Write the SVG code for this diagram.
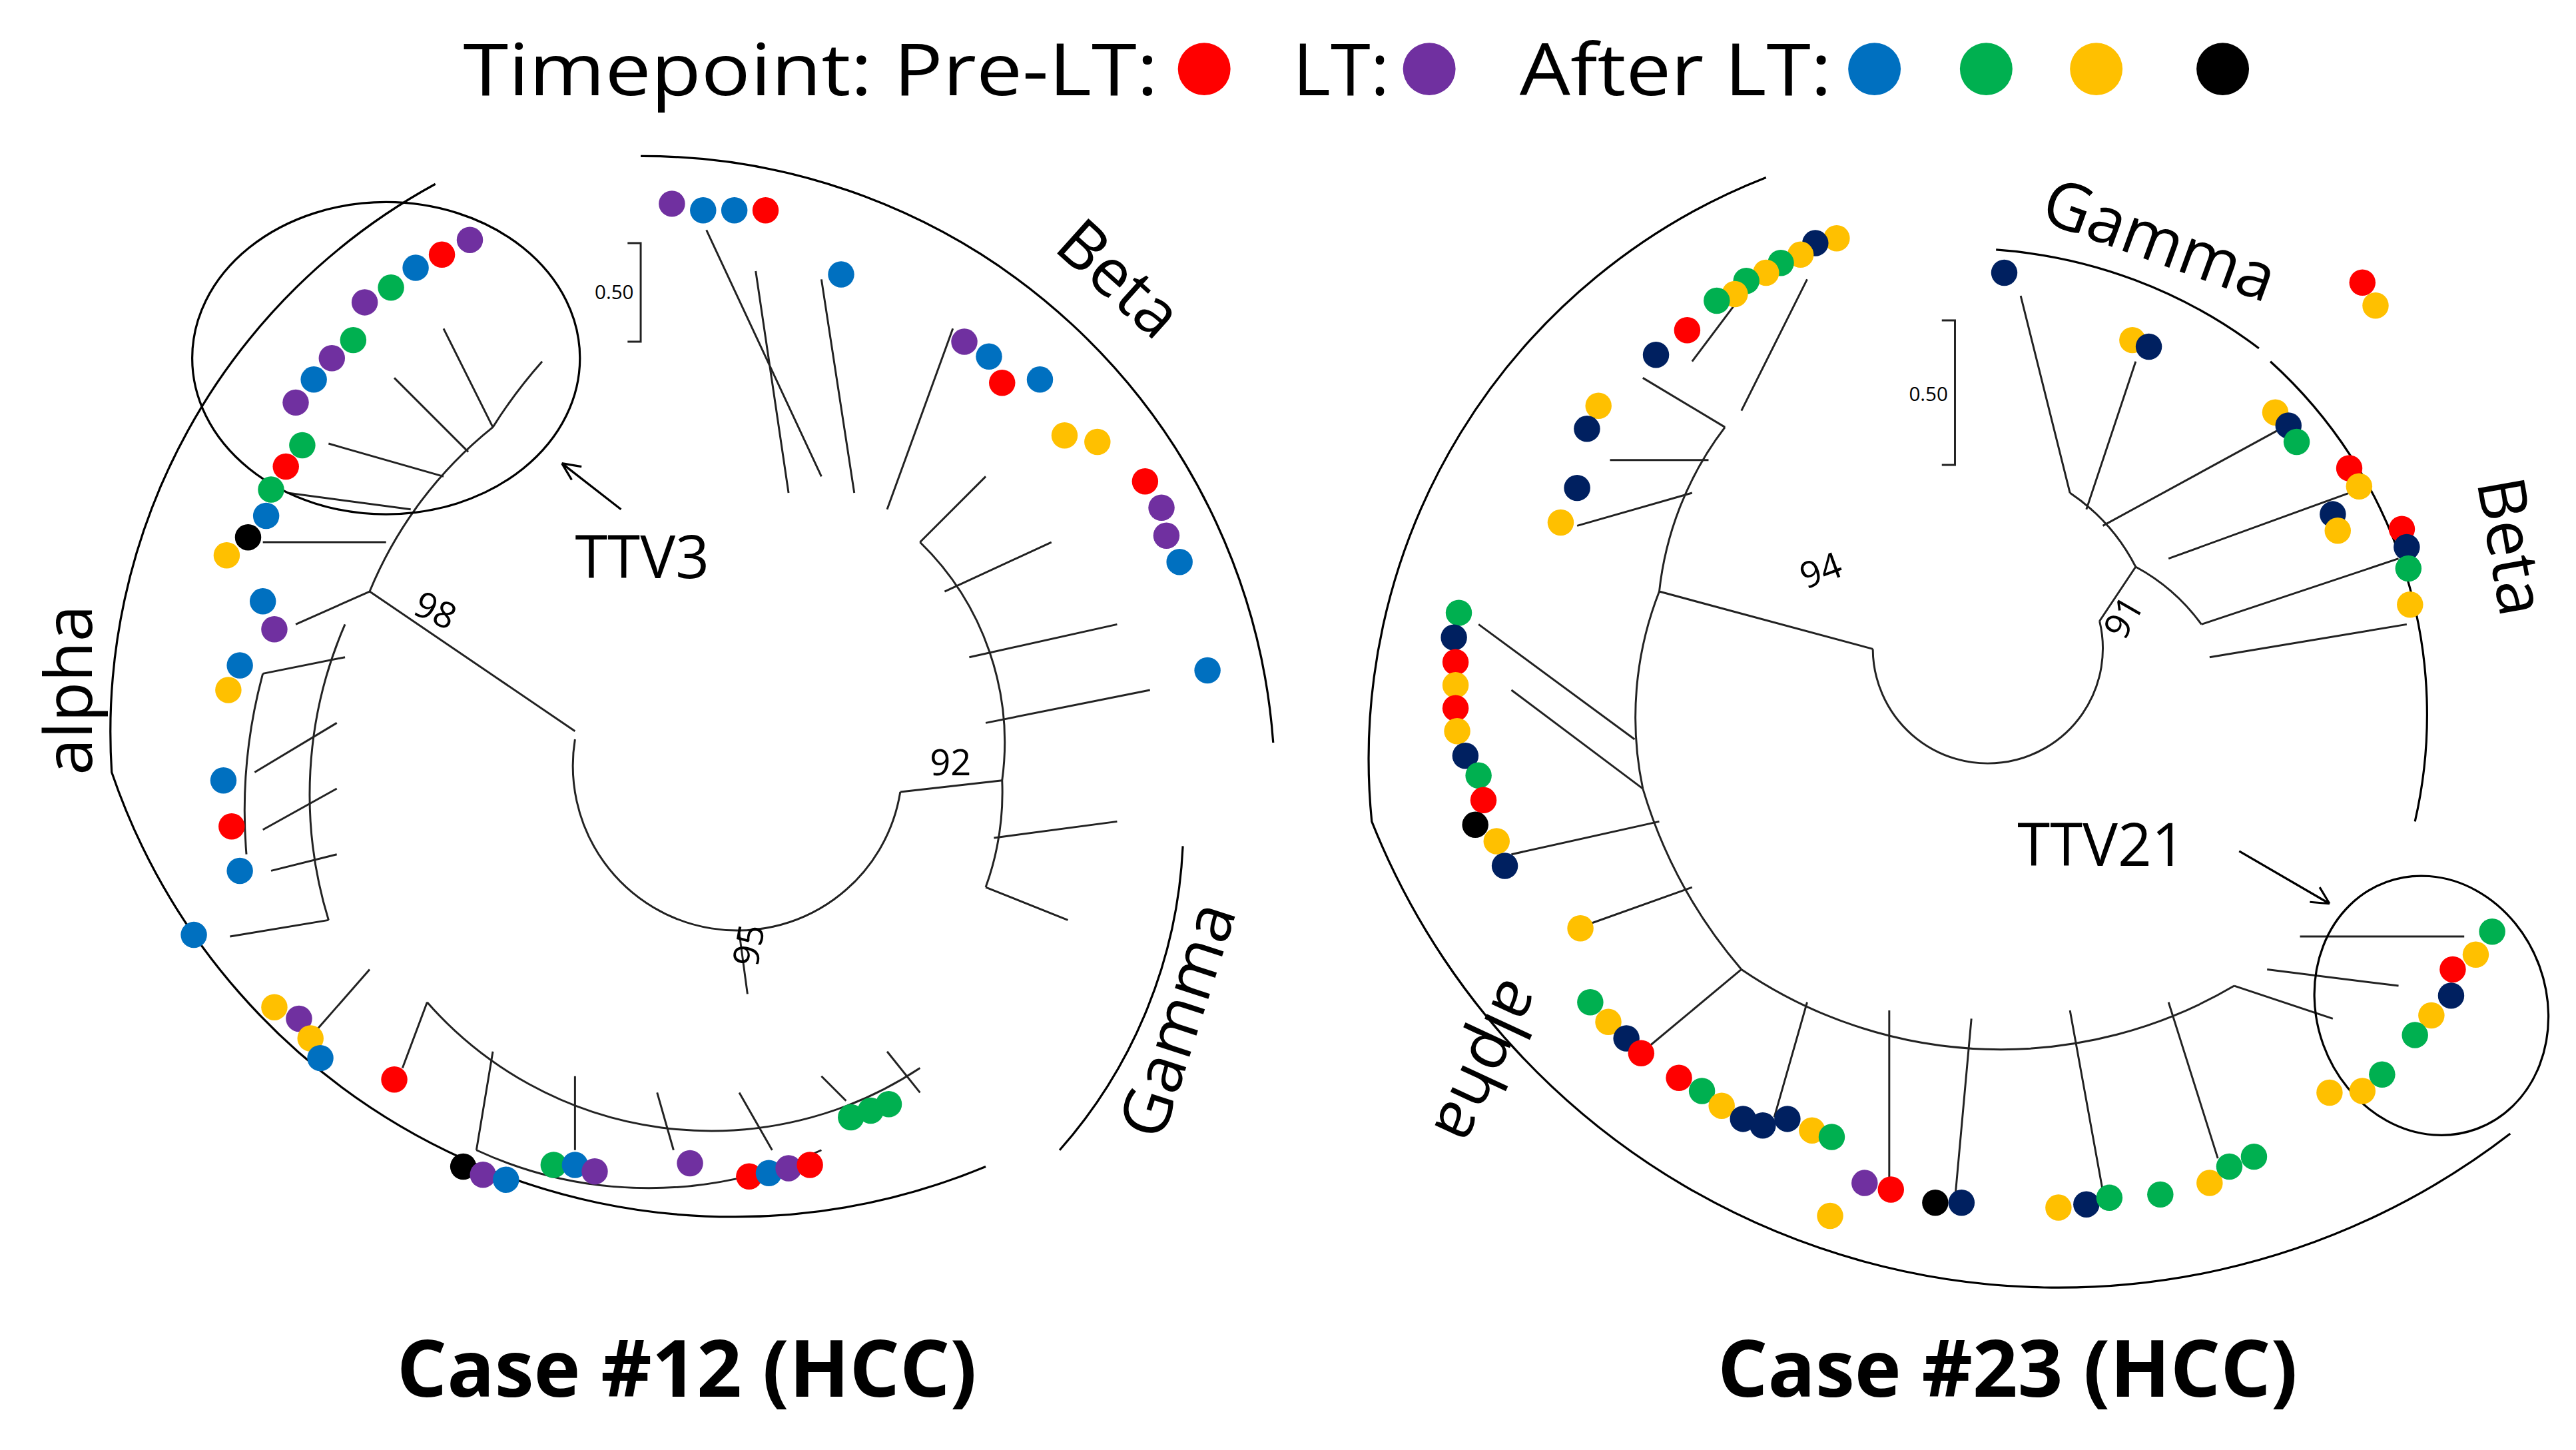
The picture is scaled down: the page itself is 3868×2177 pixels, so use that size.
<svg xmlns="http://www.w3.org/2000/svg" width="3868" height="2177" viewBox="0 0 3868 2177">
<style>
.t{font-family:"Open Sans","Liberation Sans",sans-serif;fill:#000}
.br{fill:none;stroke:#222;stroke-width:1.2}
.arc{fill:none;stroke:#000;stroke-width:1.3}
.r{fill:#ff0000}.p{fill:#7030a0}.b{fill:#0070c0}.g{fill:#00b050}.y{fill:#ffc000}.n{fill:#002060}.k{fill:#000}
</style>
<rect width="3868" height="2177" fill="#fff"/>
<g transform="scale(2.4668)">
<g id="legend">
<text class="t" x="282" y="58" font-size="44" textLength="423" lengthAdjust="spacingAndGlyphs">Timepoint: Pre-LT:</text>
<circle class="r" cx="733" cy="42" r="16"/>
<text class="t" x="787" y="58" font-size="44">LT:</text>
<circle class="p" cx="870" cy="42" r="16"/>
<text class="t" x="925" y="58" font-size="44" textLength="190" lengthAdjust="spacingAndGlyphs">After LT:</text>
<circle class="b" cx="1141" cy="42" r="16"/>
<circle class="g" cx="1209" cy="42" r="16"/>
<circle class="y" cx="1276" cy="42" r="16"/>
<circle class="k" cx="1353" cy="42" r="16"/>
</g>
<g id="tree12">
<path class="br" d="M350,450 A100,100 0 1,0 548,482"/>
<path class="br" d="M350,445 L225,360 M548,482 L610,475 M450,568 L455,605"/>
<path class="br" d="M225,360 A250,250 0 0,1 300,260 M210,380 A260,260 0 0,0 200,560 M260,610 A230,230 0 0,0 560,650 M610,475 A170,170 0 0,0 560,330 M610,475 A170,170 0 0,1 600,540"/>
<path class="br" d="M300,260 L270,200 M285,275 L240,230 M270,290 L200,270 M250,310 L175,300 M235,330 L160,330 M225,360 L180,380 M210,400 L160,410 M205,440 L155,470 M205,480 L160,505 M205,520 L165,530 M200,560 L140,570 M225,590 L190,630 M260,610 L245,650 M300,640 L290,700 M350,655 L350,700 M400,665 L410,700 M450,665 L470,700 M500,655 L515,670 M540,640 L560,665 M560,330 L600,290 M575,360 L640,330 M590,400 L680,380 M600,440 L700,420 M600,540 L650,560 M605,510 L680,500 M520,300 L500,170 M540,310 L580,200 M500,290 L430,140 M480,300 L460,165"/>
<path class="br" d="M300,260 A300,300 0 0,1 330,220 M160,410 A320,320 0 0,0 150,520 M290,700 A250,250 0 0,0 500,700"/>
<text class="t" x="252" y="378" font-size="22" transform="rotate(25 262 372)">98</text>
<text class="t" x="566" y="472" font-size="22">92</text>
<text class="t" x="446" y="585" font-size="22" transform="rotate(-80 456 578)">95</text>
<path class="br" d="M382,148 L390,148 L390,208 L382,208"/>
<text class="t" x="362" y="182" font-size="12">0.50</text>
<ellipse class="arc" cx="235" cy="218" rx="118" ry="95"/>
<path class="arc" d="M378,310 L342,282 M342,282 L354,284 M342,282 L348,292"/>
<text class="t" x="350" y="352" font-size="36">TTV3</text>
<path class="arc" d="M265,112 A380,380 0 0,0 68,470 A400,400 0 0,0 600,710"/>
<path class="arc" d="M390,95 A385,385 0 0,1 775,452"/>
<path class="arc" d="M720,515 A300,300 0 0,1 645,700"/>
<text class="t" x="56" y="420" font-size="40" text-anchor="middle" transform="rotate(-90 56 420)">alpha</text>
<text class="t" x="672" y="180" font-size="40" text-anchor="middle" transform="rotate(42 672 180)">Beta</text>
<text class="t" x="730" y="625" font-size="40" text-anchor="middle" transform="rotate(-72 730 625)">Gamma</text>
<text class="t" x="418" y="850" font-size="48" font-weight="bold" text-anchor="middle">Case #12 (HCC)</text>
<g>
<circle class="p" cx="409" cy="124" r="8"/><circle class="b" cx="428" cy="128" r="8"/><circle class="b" cx="447" cy="128" r="8"/><circle class="r" cx="466" cy="128" r="8"/>
<circle class="b" cx="512" cy="167" r="8"/><circle class="p" cx="587" cy="208" r="8"/><circle class="b" cx="602" cy="217" r="8"/><circle class="r" cx="610" cy="233" r="8"/><circle class="b" cx="633" cy="231" r="8"/>
<circle class="y" cx="648" cy="265" r="8"/><circle class="y" cx="668" cy="269" r="8"/><circle class="r" cx="697" cy="293" r="8"/><circle class="p" cx="707" cy="309" r="8"/><circle class="p" cx="710" cy="326" r="8"/><circle class="b" cx="718" cy="342" r="8"/><circle class="b" cx="735" cy="408" r="8"/>
<circle class="p" cx="286" cy="146" r="8"/><circle class="r" cx="269" cy="155" r="8"/><circle class="b" cx="253" cy="163" r="8"/><circle class="g" cx="238" cy="175" r="8"/><circle class="p" cx="222" cy="184" r="8"/><circle class="g" cx="215" cy="207" r="8"/><circle class="p" cx="202" cy="218" r="8"/><circle class="b" cx="191" cy="231" r="8"/><circle class="p" cx="180" cy="245" r="8"/>
<circle class="g" cx="184" cy="271" r="8"/><circle class="r" cx="174" cy="284" r="8"/><circle class="g" cx="165" cy="298" r="8"/><circle class="b" cx="162" cy="314" r="8"/><circle class="k" cx="151" cy="327" r="8"/><circle class="y" cx="138" cy="338" r="8"/><circle class="b" cx="160" cy="366" r="8"/><circle class="p" cx="167" cy="383" r="8"/><circle class="b" cx="146" cy="405" r="8"/><circle class="y" cx="139" cy="420" r="8"/>
<circle class="b" cx="136" cy="475" r="8"/><circle class="r" cx="141" cy="503" r="8"/><circle class="b" cx="146" cy="530" r="8"/><circle class="b" cx="118" cy="569" r="8"/>
<circle class="y" cx="167" cy="613" r="8"/><circle class="p" cx="182" cy="620" r="8"/><circle class="y" cx="189" cy="632" r="8"/><circle class="b" cx="195" cy="644" r="8"/><circle class="r" cx="240" cy="657" r="8"/>
<circle class="k" cx="282" cy="710" r="8"/><circle class="p" cx="294" cy="715" r="8"/><circle class="b" cx="308" cy="718" r="8"/><circle class="g" cx="337" cy="709" r="8"/><circle class="b" cx="350" cy="709" r="8"/><circle class="p" cx="362" cy="713" r="8"/><circle class="p" cx="420" cy="708" r="8"/>
<circle class="r" cx="456" cy="716" r="8"/><circle class="b" cx="468" cy="714" r="8"/><circle class="p" cx="480" cy="711" r="8"/><circle class="r" cx="493" cy="709" r="8"/><circle class="g" cx="518" cy="680" r="8"/><circle class="g" cx="530" cy="676" r="8"/><circle class="g" cx="541" cy="672" r="8"/>
</g>
</g>
<g id="tree23">
<path class="br" d="M1140,395 A70,70 0 1,0 1278,378"/>
<path class="br" d="M1140,395 L1010,360 M1278,378 L1300,345 M1010,360 A200,200 0 0,1 1050,260 M1010,360 A210,210 0 0,0 1000,480 M1300,345 A120,120 0 0,1 1340,380 M1300,345 A120,120 0 0,0 1260,300"/>
<path class="br" d="M1000,480 A300,300 0 0,0 1060,590 M1060,590 A280,280 0 0,0 1360,600"/>
<path class="br" d="M1050,260 L1000,230 M1040,280 L980,280 M1030,300 L960,320 M1030,220 L1060,180 M1060,250 L1100,170 M1260,300 L1230,180 M1270,310 L1300,220 M1280,320 L1390,260 M1320,340 L1430,300 M1340,380 L1460,340 M1345,400 L1465,380 M1000,480 L920,420 M995,450 L900,380 M1010,500 L920,520 M1030,540 L960,565 M1060,590 L1000,640 M1100,610 L1080,680 M1150,615 L1150,720 M1200,620 L1190,730 M1260,615 L1280,725 M1320,610 L1350,705 M1360,600 L1420,620 M1380,590 L1460,600 M1400,570 L1500,570"/>
<text class="t" x="1096" y="355" font-size="22" transform="rotate(-20 1108 348)">94</text>
<text class="t" x="1280" y="384" font-size="22" transform="rotate(-60 1292 376)">91</text>
<path class="br" d="M1182,195 L1190,195 L1190,283 L1182,283"/>
<text class="t" x="1162" y="244" font-size="12">0.50</text>
<ellipse class="arc" cx="1480" cy="612" rx="70" ry="80" transform="rotate(-20 1480 612)"/>
<path class="arc" d="M1363,518 L1418,550 M1418,550 L1406,549 M1418,550 L1412,540"/>
<text class="t" x="1228" y="527" font-size="36">TTV21</text>
<path class="arc" d="M1075,108 A380,380 0 0,0 835,500 A450,450 0 0,0 1528,690"/>
<path class="arc" d="M1215,152 A300,300 0 0,1 1375,212"/>
<path class="arc" d="M1382,220 A290,290 0 0,1 1470,500"/>
<text class="t" x="1315" y="160" font-size="40" text-anchor="middle" transform="rotate(20 1315 145)">Gamma</text>
<text class="t" x="1515" y="335" font-size="40" text-anchor="middle" transform="rotate(80 1515 335)">Beta</text>
<text class="t" x="903" y="655" font-size="40" text-anchor="middle" transform="rotate(115 903 645)">alpha</text>
<text class="t" x="1222" y="850" font-size="48" font-weight="bold" text-anchor="middle">Case #23 (HCC)</text>
<g>
<circle class="y" cx="1118" cy="145" r="8"/><circle class="n" cx="1105" cy="148" r="8"/><circle class="y" cx="1096" cy="155" r="8"/><circle class="g" cx="1084" cy="160" r="8"/><circle class="y" cx="1075" cy="166" r="8"/><circle class="g" cx="1063" cy="171" r="8"/><circle class="y" cx="1056" cy="179" r="8"/><circle class="g" cx="1045" cy="183" r="8"/><circle class="r" cx="1027" cy="201" r="8"/><circle class="n" cx="1008" cy="216" r="8"/>
<circle class="n" cx="1220" cy="166" r="8"/><circle class="y" cx="1298" cy="207" r="8"/><circle class="n" cx="1308" cy="211" r="8"/><circle class="r" cx="1438" cy="172" r="8"/><circle class="y" cx="1446" cy="186" r="8"/>
<circle class="y" cx="973" cy="247" r="8"/><circle class="n" cx="966" cy="261" r="8"/><circle class="n" cx="960" cy="297" r="8"/><circle class="y" cx="950" cy="318" r="8"/>
<circle class="y" cx="1385" cy="251" r="8"/><circle class="n" cx="1393" cy="259" r="8"/><circle class="g" cx="1398" cy="269" r="8"/><circle class="r" cx="1430" cy="285" r="8"/><circle class="y" cx="1436" cy="296" r="8"/><circle class="n" cx="1420" cy="313" r="8"/><circle class="y" cx="1423" cy="323" r="8"/><circle class="r" cx="1462" cy="322" r="8"/><circle class="n" cx="1465" cy="333" r="8"/><circle class="g" cx="1466" cy="346" r="8"/><circle class="y" cx="1467" cy="368" r="8"/>
<circle class="g" cx="888" cy="373" r="8"/><circle class="n" cx="885" cy="388" r="8"/><circle class="r" cx="886" cy="403" r="8"/><circle class="y" cx="886" cy="417" r="8"/><circle class="r" cx="886" cy="431" r="8"/><circle class="y" cx="887" cy="445" r="8"/><circle class="n" cx="892" cy="460" r="8"/><circle class="g" cx="900" cy="472" r="8"/><circle class="r" cx="903" cy="487" r="8"/><circle class="k" cx="898" cy="502" r="8"/><circle class="y" cx="911" cy="512" r="8"/><circle class="n" cx="916" cy="527" r="8"/><circle class="y" cx="962" cy="565" r="8"/>
<circle class="g" cx="968" cy="610" r="8"/><circle class="y" cx="979" cy="622" r="8"/><circle class="n" cx="990" cy="632" r="8"/><circle class="r" cx="999" cy="641" r="8"/><circle class="r" cx="1022" cy="656" r="8"/><circle class="g" cx="1036" cy="664" r="8"/><circle class="y" cx="1048" cy="673" r="8"/><circle class="n" cx="1061" cy="681" r="8"/><circle class="n" cx="1073" cy="685" r="8"/><circle class="n" cx="1088" cy="681" r="8"/><circle class="y" cx="1103" cy="688" r="8"/><circle class="g" cx="1115" cy="692" r="8"/>
<circle class="p" cx="1135" cy="720" r="8"/><circle class="r" cx="1151" cy="724" r="8"/><circle class="y" cx="1114" cy="740" r="8"/><circle class="k" cx="1178" cy="732" r="8"/><circle class="n" cx="1194" cy="732" r="8"/>
<circle class="y" cx="1253" cy="735" r="8"/><circle class="n" cx="1270" cy="733" r="8"/><circle class="g" cx="1284" cy="729" r="8"/><circle class="g" cx="1315" cy="727" r="8"/><circle class="y" cx="1345" cy="720" r="8"/><circle class="g" cx="1357" cy="710" r="8"/><circle class="g" cx="1372" cy="704" r="8"/>
<circle class="g" cx="1517" cy="567" r="8"/><circle class="y" cx="1507" cy="581" r="8"/><circle class="r" cx="1493" cy="590" r="8"/><circle class="n" cx="1492" cy="606" r="8"/><circle class="y" cx="1480" cy="618" r="8"/><circle class="g" cx="1470" cy="630" r="8"/><circle class="y" cx="1418" cy="665" r="8"/><circle class="y" cx="1438" cy="664" r="8"/><circle class="g" cx="1450" cy="654" r="8"/>
</g>
</g>
</g>
</svg>
